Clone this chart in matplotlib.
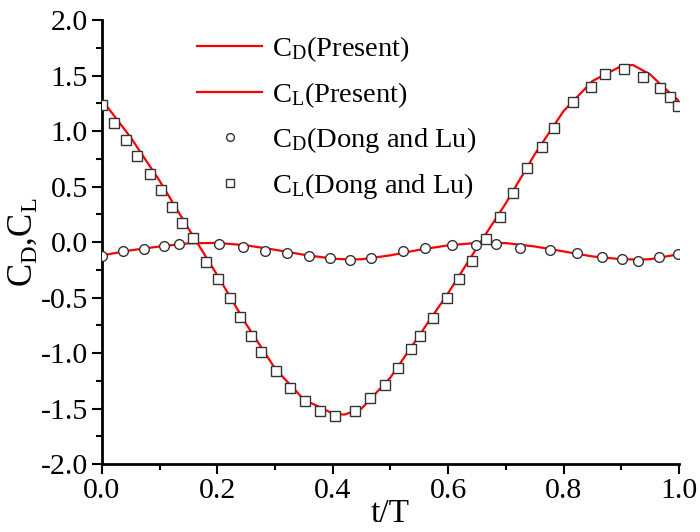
import numpy as np
import matplotlib
matplotlib.use("Agg")
import matplotlib.pyplot as plt
from matplotlib.ticker import MultipleLocator, FormatStrFormatter

plt.rcParams['font.family'] = ['Liberation Serif', 'DejaVu Serif']
plt.rcParams['mathtext.fontset'] = 'custom'
plt.rcParams['mathtext.rm'] = 'Liberation Serif'
plt.rcParams['mathtext.it'] = 'Liberation Serif:italic'
plt.rcParams['axes.unicode_minus'] = False

# Present results (lines)
t_cl_line = [0.0, 0.05, 0.1, 0.15, 0.2, 0.25, 0.3, 0.35, 0.4, 0.42, 0.45, 0.5,
             0.55, 0.6, 0.65, 0.7, 0.75, 0.8, 0.85, 0.9, 0.92, 0.95, 0.97, 1.0]
cl_line = [1.28, 0.94, 0.55, 0.12, -0.30, -0.74, -1.14, -1.42, -1.545, -1.555, -1.50, -1.22,
           -0.84, -0.46, -0.05, 0.35, 0.79, 1.18, 1.45, 1.585, 1.595, 1.51, 1.41, 1.27]

t_cd_line = [0.0, 0.05, 0.1, 0.15, 0.2, 0.25, 0.3, 0.35, 0.4, 0.43, 0.45, 0.5,
             0.55, 0.6, 0.65, 0.7, 0.75, 0.8, 0.85, 0.9, 0.93, 0.95, 1.0]
cd_line = [-0.12, -0.075, -0.04, -0.012, -0.008, -0.03, -0.07, -0.115, -0.15, -0.158, -0.155, -0.12,
           -0.07, -0.03, -0.008, -0.01, -0.04, -0.085, -0.13, -0.155, -0.158, -0.155, -0.11]

# Dong and Lu (markers)
t_cl_ref = [0.0, 0.021, 0.041, 0.061, 0.083, 0.102, 0.121, 0.139, 0.157, 0.180, 0.201,
            0.221, 0.240, 0.258, 0.276, 0.301, 0.325, 0.351, 0.378, 0.404, 0.439, 0.464,
            0.490, 0.513, 0.535, 0.552, 0.574, 0.598, 0.619, 0.641, 0.666, 0.689, 0.712,
            0.737, 0.762, 0.784, 0.817, 0.847, 0.872, 0.905, 0.938, 0.967, 0.985, 0.999]
cl_ref = [1.23, 1.075, 0.92, 0.775, 0.615, 0.466, 0.315, 0.168, 0.039, -0.183, -0.33,
          -0.507, -0.673, -0.844, -0.99, -1.162, -1.312, -1.43, -1.52, -1.57, -1.52, -1.408,
          -1.286, -1.135, -0.967, -0.844, -0.682, -0.507, -0.336, -0.168, 0.03, 0.228, 0.44,
          0.67, 0.856, 1.027, 1.258, 1.40, 1.51, 1.56, 1.49, 1.39, 1.306, 1.225]

t_cd_ref = [0.0, 0.036, 0.072, 0.108, 0.134, 0.203, 0.245, 0.282, 0.321, 0.358, 0.395,
            0.430, 0.467, 0.521, 0.560, 0.607, 0.649, 0.682, 0.725, 0.776, 0.823, 0.867,
            0.902, 0.929, 0.965, 0.999]
cd_ref = [-0.13, -0.081, -0.066, -0.039, -0.021, -0.021, -0.048, -0.081, -0.096, -0.129, -0.147,
          -0.165, -0.147, -0.081, -0.057, -0.030, -0.030, -0.021, -0.057, -0.075, -0.102, -0.138,
          -0.150, -0.171, -0.138, -0.111]

fig = plt.figure(figsize=(7, 5.32), dpi=100)
ax = fig.add_axes([0.1457, 0.1278, 0.8243, 0.8346])

ax.plot(t_cd_line, cd_line, color='red', lw=1.6, label=r'C$_\mathrm{D}$(Present)', zorder=2)
ax.plot(t_cl_line, cl_line, color='red', lw=1.6, label=r'C$_\mathrm{L}$(Present)', zorder=2)
ax.plot(t_cd_ref, cd_ref, ls='none', marker='o', ms=7, mfc='white', mec='#333333', mew=1,
        label=r'C$_\mathrm{D}$(Dong and Lu)', zorder=3)
ax.plot(t_cl_ref, cl_ref, ls='none', marker='s', ms=7, mfc='white', mec='#333333', mew=1,
        label=r'C$_\mathrm{L}$(Dong and Lu)', zorder=3)

ax.set_xlim(0, 1.0)
ax.set_ylim(-2.0, 2.0)
ax.xaxis.set_major_locator(MultipleLocator(0.2))
ax.xaxis.set_minor_locator(MultipleLocator(0.1))
ax.yaxis.set_major_locator(MultipleLocator(0.5))
ax.yaxis.set_minor_locator(MultipleLocator(0.25))
ax.xaxis.set_major_formatter(FormatStrFormatter('%.1f'))
ax.yaxis.set_major_formatter(FormatStrFormatter('%.1f'))

for s in ['top', 'right']:
    ax.spines[s].set_visible(False)
for s in ['left', 'bottom']:
    ax.spines[s].set_linewidth(2)

ax.tick_params(which='major', direction='out', length=7, width=1.5, labelsize=21.5, pad=3)
ax.tick_params(which='minor', direction='out', length=4, width=1.5)

ax.set_xlabel('t/T', fontsize=24, labelpad=-4)
ax.set_ylabel(r'C$_\mathrm{D}$,C$_\mathrm{L}$', fontsize=25, labelpad=1)

ax.legend(loc='upper left', bbox_to_anchor=(0.12, 1.025), frameon=False, fontsize=20.5,
          handlelength=2.3, handletextpad=0.35, labelspacing=0.55, markerscale=0.8)

fig.savefig('out.png', dpi=100)
